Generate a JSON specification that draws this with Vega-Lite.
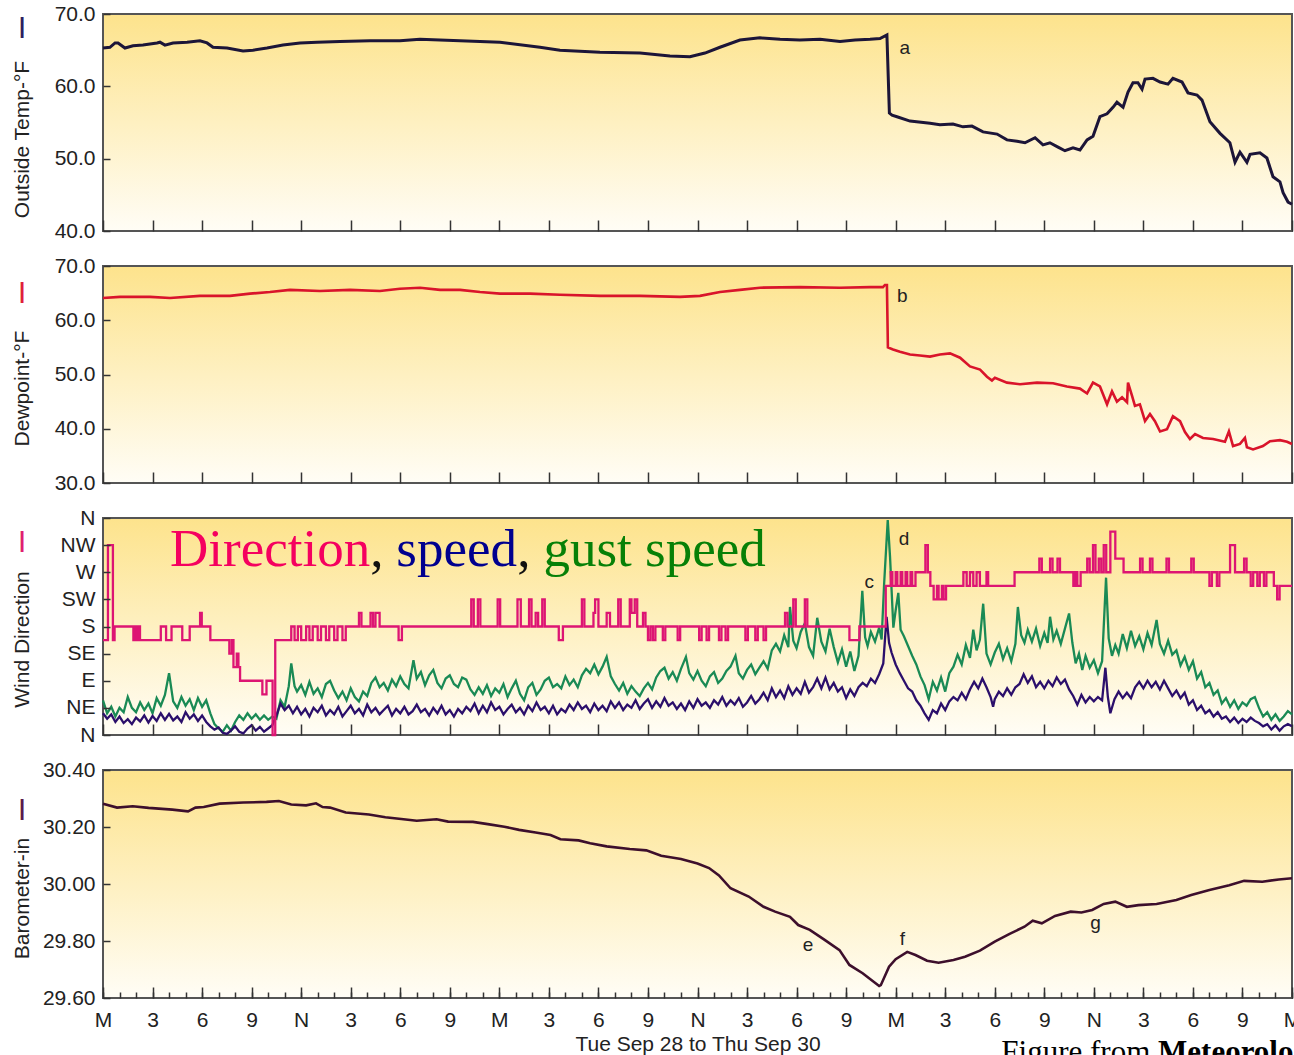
{
  "$schema": "https://vega.github.io/schema/vega-lite/v6.json",
  "padding": {"top": 3, "left": 10, "right": 0, "bottom": 0},
  "background": "white",
  "spacing": 35,
  "bounds": "flush",
  "config": {
    "font": "Liberation Sans",
    "view": {"stroke": null},
    "axis": {"labelFont": "Liberation Sans", "titleFont": "Liberation Sans", "labelFontSize": 21, "titleFontSize": 21, "labelColor": "#222", "titleColor": "#222", "titleFontWeight": "normal", "tickColor": "#333", "tickWidth": 1.5, "grid": false, "domain": false, "zindex": 1, "labelOverlap": false}
  },
  "datasets": {
    "temp": [{"h":0,"v":65.3},{"h":0.42,"v":65.4},{"h":0.73,"v":66.0},{"h":0.91,"v":66.0},{"h":1.33,"v":65.3},{"h":1.82,"v":65.6},{"h":2.42,"v":65.7},{"h":3.27,"v":66.0},{"h":3.45,"v":66.1},{"h":3.75,"v":65.7},{"h":4.24,"v":66.0},{"h":5.09,"v":66.1},{"h":5.87,"v":66.3},{"h":6.3,"v":66.0},{"h":6.66,"v":65.4},{"h":7.51,"v":65.3},{"h":8.48,"v":64.9},{"h":9.08,"v":65.0},{"h":9.93,"v":65.3},{"h":10.9,"v":65.7},{"h":11.93,"v":66.0},{"h":12.96,"v":66.1},{"h":14.35,"v":66.2},{"h":16.17,"v":66.3},{"h":17.98,"v":66.3},{"h":19.19,"v":66.5},{"h":21.62,"v":66.3},{"h":24.04,"v":66.1},{"h":26.46,"v":65.4},{"h":27.67,"v":65.0},{"h":30.09,"v":64.7},{"h":32.52,"v":64.6},{"h":34.33,"v":64.2},{"h":35.54,"v":64.1},{"h":36.45,"v":64.6},{"h":37.36,"v":65.4},{"h":38.57,"v":66.4},{"h":39.78,"v":66.7},{"h":41.0,"v":66.5},{"h":42.2,"v":66.4},{"h":43.42,"v":66.5},{"h":44.63,"v":66.2},{"h":45.54,"v":66.4},{"h":46.45,"v":66.5},{"h":47.05,"v":66.6},{"h":47.47,"v":67.1},{"h":47.62,"v":56.3},{"h":47.78,"v":56.0},{"h":48.08,"v":55.8},{"h":48.87,"v":55.2},{"h":50.08,"v":54.9},{"h":50.68,"v":54.7},{"h":51.47,"v":54.8},{"h":52.08,"v":54.4},{"h":52.62,"v":54.5},{"h":53.29,"v":53.7},{"h":54.14,"v":53.4},{"h":54.74,"v":52.6},{"h":55.35,"v":52.4},{"h":55.83,"v":52.2},{"h":56.44,"v":52.9},{"h":56.92,"v":51.9},{"h":57.34,"v":52.2},{"h":57.83,"v":51.6},{"h":58.25,"v":51.1},{"h":58.74,"v":51.5},{"h":59.16,"v":51.2},{"h":59.59,"v":52.6},{"h":59.95,"v":53.1},{"h":60.37,"v":55.8},{"h":60.8,"v":56.2},{"h":61.16,"v":57.1},{"h":61.4,"v":57.8},{"h":61.77,"v":57.1},{"h":62.07,"v":59.2},{"h":62.37,"v":60.5},{"h":62.67,"v":60.5},{"h":62.92,"v":59.6},{"h":63.1,"v":61.0},{"h":63.58,"v":61.1},{"h":64.01,"v":60.6},{"h":64.49,"v":60.3},{"h":64.79,"v":61.1},{"h":65.34,"v":60.6},{"h":65.7,"v":59.1},{"h":66.25,"v":58.8},{"h":66.55,"v":58.1},{"h":67.03,"v":55.1},{"h":67.64,"v":53.5},{"h":68.24,"v":52.2},{"h":68.55,"v":49.5},{"h":68.85,"v":50.9},{"h":69.27,"v":49.5},{"h":69.46,"v":50.6},{"h":70.06,"v":50.8},{"h":70.48,"v":50.1},{"h":70.85,"v":47.5},{"h":71.27,"v":46.8},{"h":71.46,"v":45.3},{"h":71.76,"v":44.0},{"h":72,"v":43.7}],
    "dew": [{"h":0,"v":64.1},{"h":1.03,"v":64.3},{"h":2.85,"v":64.3},{"h":4.06,"v":64.1},{"h":5.87,"v":64.5},{"h":7.69,"v":64.5},{"h":8.9,"v":64.9},{"h":10.11,"v":65.2},{"h":11.32,"v":65.6},{"h":13.14,"v":65.4},{"h":14.96,"v":65.6},{"h":16.77,"v":65.4},{"h":17.98,"v":65.8},{"h":19.2,"v":66.0},{"h":20.41,"v":65.6},{"h":21.62,"v":65.6},{"h":22.83,"v":65.2},{"h":24.04,"v":64.9},{"h":25.86,"v":64.9},{"h":27.67,"v":64.7},{"h":30.1,"v":64.5},{"h":32.52,"v":64.5},{"h":34.94,"v":64.3},{"h":36.15,"v":64.5},{"h":37.36,"v":65.2},{"h":38.57,"v":65.6},{"h":39.78,"v":66.0},{"h":42.21,"v":66.1},{"h":44.63,"v":66.0},{"h":46.45,"v":66.1},{"h":47.23,"v":66.1},{"h":47.35,"v":66.5},{"h":47.47,"v":66.5},{"h":47.53,"v":55.0},{"h":47.84,"v":54.6},{"h":48.26,"v":54.2},{"h":48.87,"v":53.7},{"h":49.47,"v":53.5},{"h":50.08,"v":53.3},{"h":50.68,"v":53.7},{"h":51.29,"v":53.9},{"h":51.9,"v":53.1},{"h":52.5,"v":51.5},{"h":53.11,"v":50.9},{"h":53.53,"v":49.6},{"h":53.83,"v":48.9},{"h":54.01,"v":49.4},{"h":54.74,"v":48.5},{"h":55.53,"v":48.2},{"h":56.56,"v":48.5},{"h":57.53,"v":48.4},{"h":58.37,"v":47.8},{"h":59.16,"v":47.4},{"h":59.59,"v":46.5},{"h":59.95,"v":48.5},{"h":60.37,"v":47.8},{"h":60.8,"v":44.5},{"h":61.1,"v":46.9},{"h":61.4,"v":45.0},{"h":61.71,"v":45.8},{"h":62.01,"v":44.9},{"h":62.07,"v":48.5},{"h":62.31,"v":46.1},{"h":62.49,"v":44.2},{"h":62.79,"v":44.5},{"h":63.1,"v":41.4},{"h":63.4,"v":42.7},{"h":63.7,"v":41.4},{"h":64.01,"v":39.5},{"h":64.43,"v":39.9},{"h":64.79,"v":42.3},{"h":65.22,"v":41.4},{"h":65.52,"v":39.4},{"h":65.82,"v":38.1},{"h":66.13,"v":39.0},{"h":66.61,"v":38.3},{"h":67.22,"v":38.1},{"h":67.94,"v":37.6},{"h":68.18,"v":39.5},{"h":68.43,"v":36.8},{"h":68.85,"v":37.2},{"h":69.15,"v":38.3},{"h":69.27,"v":36.6},{"h":69.64,"v":36.2},{"h":70.24,"v":36.8},{"h":70.67,"v":37.7},{"h":71.27,"v":37.9},{"h":71.7,"v":37.6},{"h":72,"v":37.2}],
    "dir": [{"h":0,"d":157.5},{"h":0.3,"d":315},{"h":0.6,"d":157.5},{"h":0.7,"d":180},{"h":1.84,"d":157.5},{"h":1.92,"d":180},{"h":2.0,"d":157.5},{"h":2.1,"d":180},{"h":2.24,"d":157.5},{"h":3.5,"d":180},{"h":3.82,"d":157.5},{"h":4.15,"d":180},{"h":4.8,"d":157.5},{"h":5.25,"d":180},{"h":5.88,"d":202.5},{"h":5.98,"d":180},{"h":6.5,"d":157.5},{"h":7.65,"d":135},{"h":7.8,"d":157.5},{"h":7.9,"d":112.5},{"h":8.1,"d":135},{"h":8.2,"d":112.5},{"h":8.3,"d":90},{"h":9.65,"d":67.5},{"h":9.9,"d":90},{"h":10.27,"d":0},{"h":10.43,"d":157.5},{"h":11.4,"d":180},{"h":11.6,"d":157.5},{"h":11.8,"d":180},{"h":12.0,"d":157.5},{"h":12.3,"d":180},{"h":12.5,"d":157.5},{"h":12.7,"d":180},{"h":13.0,"d":157.5},{"h":13.2,"d":180},{"h":13.5,"d":157.5},{"h":13.7,"d":180},{"h":14.0,"d":157.5},{"h":14.2,"d":180},{"h":14.5,"d":157.5},{"h":14.7,"d":180},{"h":15.5,"d":202.5},{"h":15.65,"d":180},{"h":16.2,"d":202.5},{"h":16.35,"d":180},{"h":16.5,"d":202.5},{"h":16.75,"d":180},{"h":17.9,"d":157.5},{"h":18.1,"d":180},{"h":22.3,"d":225},{"h":22.45,"d":180},{"h":22.7,"d":225},{"h":22.85,"d":180},{"h":23.9,"d":225},{"h":24.05,"d":180},{"h":25.1,"d":225},{"h":25.3,"d":180},{"h":25.8,"d":225},{"h":25.95,"d":180},{"h":26.2,"d":202.5},{"h":26.35,"d":180},{"h":26.6,"d":225},{"h":26.75,"d":180},{"h":27.6,"d":157.5},{"h":27.85,"d":180},{"h":29.0,"d":225},{"h":29.15,"d":180},{"h":29.7,"d":202.5},{"h":29.8,"d":225},{"h":30.0,"d":180},{"h":30.5,"d":202.5},{"h":30.7,"d":180},{"h":31.2,"d":225},{"h":31.35,"d":180},{"h":31.9,"d":225},{"h":32.0,"d":202.5},{"h":32.2,"d":225},{"h":32.35,"d":180},{"h":32.7,"d":202.5},{"h":32.85,"d":180},{"h":33.0,"d":157.5},{"h":33.15,"d":180},{"h":33.3,"d":157.5},{"h":33.45,"d":180},{"h":33.9,"d":157.5},{"h":34.05,"d":180},{"h":34.8,"d":157.5},{"h":34.95,"d":180},{"h":36.1,"d":157.5},{"h":36.25,"d":180},{"h":36.55,"d":157.5},{"h":36.7,"d":180},{"h":37.3,"d":157.5},{"h":37.45,"d":180},{"h":37.7,"d":157.5},{"h":37.85,"d":180},{"h":38.9,"d":157.5},{"h":39.05,"d":180},{"h":39.5,"d":157.5},{"h":39.65,"d":180},{"h":40.0,"d":157.5},{"h":40.15,"d":180},{"h":41.3,"d":202.5},{"h":41.45,"d":180},{"h":41.8,"d":225},{"h":41.95,"d":180},{"h":42.5,"d":225},{"h":42.65,"d":180},{"h":45.2,"d":157.5},{"h":45.8,"d":180},{"h":47.4,"d":247.5},{"h":47.7,"d":270},{"h":47.8,"d":247.5},{"h":48.0,"d":270},{"h":48.1,"d":247.5},{"h":48.3,"d":270},{"h":48.4,"d":247.5},{"h":48.6,"d":270},{"h":48.7,"d":247.5},{"h":48.9,"d":270},{"h":49.0,"d":247.5},{"h":49.2,"d":270},{"h":49.8,"d":315},{"h":49.95,"d":270},{"h":50.1,"d":247.5},{"h":50.3,"d":225},{"h":50.5,"d":247.5},{"h":50.6,"d":225},{"h":50.8,"d":247.5},{"h":50.9,"d":225},{"h":51.05,"d":247.5},{"h":52.1,"d":270},{"h":52.3,"d":247.5},{"h":52.5,"d":270},{"h":52.7,"d":247.5},{"h":52.9,"d":270},{"h":53.1,"d":247.5},{"h":53.5,"d":270},{"h":53.6,"d":247.5},{"h":55.2,"d":270},{"h":56.7,"d":292.5},{"h":56.85,"d":270},{"h":57.35,"d":292.5},{"h":57.5,"d":270},{"h":57.8,"d":292.5},{"h":57.95,"d":270},{"h":58.76,"d":247.5},{"h":58.9,"d":270},{"h":59.0,"d":247.5},{"h":59.2,"d":270},{"h":59.6,"d":292.5},{"h":59.75,"d":270},{"h":59.95,"d":315},{"h":60.1,"d":270},{"h":60.3,"d":292.5},{"h":60.45,"d":270},{"h":60.6,"d":315},{"h":60.75,"d":270},{"h":61.0,"d":337.5},{"h":61.3,"d":292.5},{"h":61.8,"d":270},{"h":62.8,"d":292.5},{"h":62.95,"d":270},{"h":63.4,"d":292.5},{"h":63.55,"d":270},{"h":64.4,"d":292.5},{"h":64.55,"d":270},{"h":65.9,"d":292.5},{"h":66.05,"d":270},{"h":67.0,"d":247.5},{"h":67.15,"d":270},{"h":67.45,"d":247.5},{"h":67.6,"d":270},{"h":68.25,"d":315},{"h":68.55,"d":270},{"h":69.1,"d":292.5},{"h":69.25,"d":270},{"h":69.5,"d":247.5},{"h":69.65,"d":270},{"h":69.9,"d":247.5},{"h":70.05,"d":270},{"h":70.3,"d":247.5},{"h":70.45,"d":270},{"h":70.9,"d":247.5},{"h":71.1,"d":225},{"h":71.25,"d":247.5},{"h":72,"d":247.5}],
    "spd": [{"h":0,"s":4.0},{"h":0.25,"s":3.0},{"h":0.5,"s":3.8},{"h":0.75,"s":2.4},{"h":1.0,"s":3.4},{"h":1.25,"s":2.2},{"h":1.5,"s":2.9},{"h":1.75,"s":2.0},{"h":2.0,"s":3.2},{"h":2.25,"s":2.5},{"h":2.5,"s":3.6},{"h":2.75,"s":2.3},{"h":3.0,"s":3.5},{"h":3.25,"s":2.6},{"h":3.5,"s":4.0},{"h":3.75,"s":2.8},{"h":4.0,"s":3.9},{"h":4.25,"s":2.7},{"h":4.5,"s":3.4},{"h":4.75,"s":2.4},{"h":5.0,"s":4.2},{"h":5.25,"s":3.0},{"h":5.5,"s":3.8},{"h":5.75,"s":2.6},{"h":6.0,"s":3.6},{"h":6.25,"s":2.4},{"h":6.5,"s":1.6},{"h":6.75,"s":1.0},{"h":7.0,"s":1.4},{"h":7.25,"s":0.4},{"h":7.5,"s":0.2},{"h":7.75,"s":0.8},{"h":8.0,"s":1.6},{"h":8.25,"s":0.6},{"h":8.5,"s":0.3},{"h":8.75,"s":1.2},{"h":9.0,"s":1.8},{"h":9.25,"s":0.8},{"h":9.5,"s":1.5},{"h":9.75,"s":0.6},{"h":10.0,"s":1.2},{"h":10.25,"s":1.8},{"h":10.5,"s":3.6},{"h":10.75,"s":5.8},{"h":11.0,"s":4.6},{"h":11.25,"s":5.4},{"h":11.5,"s":4.0},{"h":11.75,"s":5.2},{"h":12.0,"s":3.8},{"h":12.25,"s":4.8},{"h":12.5,"s":3.4},{"h":12.75,"s":5.0},{"h":13.0,"s":4.2},{"h":13.25,"s":5.4},{"h":13.5,"s":3.6},{"h":13.75,"s":4.6},{"h":14.0,"s":3.8},{"h":14.25,"s":5.2},{"h":14.5,"s":3.4},{"h":14.75,"s":4.4},{"h":15.0,"s":5.4},{"h":15.25,"s":4.0},{"h":15.5,"s":4.8},{"h":15.75,"s":3.6},{"h":16.0,"s":5.6},{"h":16.25,"s":4.2},{"h":16.5,"s":5.0},{"h":16.75,"s":3.8},{"h":17.0,"s":4.6},{"h":17.25,"s":5.4},{"h":17.5,"s":3.6},{"h":17.75,"s":4.8},{"h":18.0,"s":4.0},{"h":18.25,"s":5.2},{"h":18.5,"s":3.8},{"h":18.75,"s":4.4},{"h":19.0,"s":5.6},{"h":19.25,"s":4.2},{"h":19.5,"s":4.8},{"h":19.75,"s":3.6},{"h":20.0,"s":5.0},{"h":20.25,"s":4.0},{"h":20.5,"s":5.4},{"h":20.75,"s":3.8},{"h":21.0,"s":4.6},{"h":21.25,"s":3.4},{"h":21.5,"s":4.8},{"h":21.75,"s":4.0},{"h":22.0,"s":5.2},{"h":22.25,"s":4.4},{"h":22.5,"s":5.8},{"h":22.75,"s":4.0},{"h":23.0,"s":5.4},{"h":23.25,"s":4.2},{"h":23.5,"s":6.0},{"h":23.75,"s":4.6},{"h":24.0,"s":5.2},{"h":24.25,"s":3.8},{"h":24.5,"s":4.8},{"h":24.75,"s":5.6},{"h":25.0,"s":4.2},{"h":25.25,"s":5.0},{"h":25.5,"s":3.8},{"h":25.75,"s":5.4},{"h":26.0,"s":4.4},{"h":26.25,"s":6.0},{"h":26.5,"s":4.6},{"h":26.75,"s":5.2},{"h":27.0,"s":4.0},{"h":27.25,"s":5.4},{"h":27.5,"s":3.8},{"h":27.75,"s":4.8},{"h":28.0,"s":4.2},{"h":28.25,"s":5.6},{"h":28.5,"s":4.6},{"h":28.75,"s":6.0},{"h":29.0,"s":4.8},{"h":29.25,"s":5.4},{"h":29.5,"s":4.2},{"h":29.75,"s":5.8},{"h":30.0,"s":4.6},{"h":30.25,"s":5.4},{"h":30.5,"s":4.4},{"h":30.75,"s":6.2},{"h":31.0,"s":5.0},{"h":31.25,"s":6.0},{"h":31.5,"s":4.6},{"h":31.75,"s":5.6},{"h":32.0,"s":5.0},{"h":32.25,"s":6.4},{"h":32.5,"s":4.8},{"h":32.75,"s":5.8},{"h":33.0,"s":6.6},{"h":33.25,"s":5.0},{"h":33.5,"s":6.2},{"h":33.75,"s":5.2},{"h":34.0,"s":6.8},{"h":34.25,"s":5.4},{"h":34.5,"s":6.0},{"h":34.75,"s":4.8},{"h":35.0,"s":5.8},{"h":35.25,"s":4.6},{"h":35.5,"s":6.2},{"h":35.75,"s":5.0},{"h":36.0,"s":6.6},{"h":36.25,"s":5.4},{"h":36.5,"s":6.0},{"h":36.75,"s":5.0},{"h":37.0,"s":6.4},{"h":37.25,"s":5.6},{"h":37.5,"s":7.0},{"h":37.75,"s":5.4},{"h":38.0,"s":6.4},{"h":38.25,"s":5.6},{"h":38.5,"s":6.8},{"h":38.75,"s":5.2},{"h":39.0,"s":6.0},{"h":39.25,"s":7.2},{"h":39.5,"s":5.8},{"h":39.75,"s":6.6},{"h":40.0,"s":7.8},{"h":40.25,"s":6.4},{"h":40.5,"s":8.6},{"h":40.75,"s":7.0},{"h":41.0,"s":8.2},{"h":41.25,"s":6.8},{"h":41.5,"s":9.0},{"h":41.75,"s":7.4},{"h":42.0,"s":8.6},{"h":42.25,"s":7.6},{"h":42.5,"s":9.8},{"h":42.75,"s":7.8},{"h":43.0,"s":8.8},{"h":43.25,"s":10.4},{"h":43.5,"s":8.6},{"h":43.75,"s":10.6},{"h":44.0,"s":8.4},{"h":44.25,"s":9.6},{"h":44.5,"s":8.0},{"h":44.75,"s":8.8},{"h":45.0,"s":6.8},{"h":45.25,"s":8.4},{"h":45.5,"s":7.2},{"h":45.75,"s":8.8},{"h":46.0,"s":9.6},{"h":46.25,"s":9.0},{"h":46.5,"s":10.4},{"h":46.75,"s":9.6},{"h":47.0,"s":11.2},{"h":47.25,"s":13.2},{"h":47.45,"s":21.8},{"h":47.6,"s":17.0},{"h":47.75,"s":15.2},{"h":48.0,"s":13.0},{"h":48.25,"s":11.4},{"h":48.5,"s":10.0},{"h":48.75,"s":8.6},{"h":49.0,"s":8.0},{"h":49.25,"s":6.4},{"h":49.5,"s":5.4},{"h":49.75,"s":4.0},{"h":50.0,"s":2.8},{"h":50.25,"s":4.6},{"h":50.5,"s":4.0},{"h":50.75,"s":5.8},{"h":51.0,"s":4.6},{"h":51.25,"s":6.2},{"h":51.5,"s":7.0},{"h":51.75,"s":6.4},{"h":52.0,"s":7.8},{"h":52.25,"s":6.6},{"h":52.5,"s":8.4},{"h":52.75,"s":9.8},{"h":53.0,"s":8.6},{"h":53.25,"s":10.4},{"h":53.5,"s":8.8},{"h":53.75,"s":7.0},{"h":53.9,"s":5.2},{"h":54.0,"s":6.6},{"h":54.25,"s":8.0},{"h":54.5,"s":7.2},{"h":54.75,"s":8.6},{"h":55.0,"s":7.4},{"h":55.25,"s":8.8},{"h":55.5,"s":9.4},{"h":55.75,"s":11.2},{"h":56.0,"s":9.6},{"h":56.25,"s":10.8},{"h":56.5,"s":8.8},{"h":56.75,"s":9.8},{"h":57.0,"s":8.6},{"h":57.25,"s":10.0},{"h":57.5,"s":9.0},{"h":57.75,"s":10.6},{"h":58.0,"s":9.4},{"h":58.25,"s":10.2},{"h":58.5,"s":8.4},{"h":58.75,"s":7.2},{"h":59.0,"s":5.6},{"h":59.25,"s":7.4},{"h":59.5,"s":6.0},{"h":59.75,"s":7.0},{"h":60.0,"s":6.2},{"h":60.25,"s":7.0},{"h":60.5,"s":6.4},{"h":60.7,"s":12.4},{"h":60.85,"s":7.0},{"h":61.0,"s":4.0},{"h":61.25,"s":6.6},{"h":61.5,"s":8.0},{"h":61.75,"s":6.8},{"h":62.0,"s":7.8},{"h":62.25,"s":6.8},{"h":62.5,"s":8.8},{"h":62.75,"s":9.8},{"h":63.0,"s":8.6},{"h":63.25,"s":10.0},{"h":63.5,"s":8.8},{"h":63.75,"s":9.8},{"h":64.0,"s":8.4},{"h":64.25,"s":10.0},{"h":64.5,"s":8.6},{"h":64.75,"s":7.2},{"h":65.0,"s":8.2},{"h":65.25,"s":6.8},{"h":65.5,"s":7.8},{"h":65.75,"s":5.6},{"h":66.0,"s":6.4},{"h":66.25,"s":4.6},{"h":66.5,"s":5.4},{"h":66.75,"s":4.0},{"h":67.0,"s":4.6},{"h":67.25,"s":3.4},{"h":67.5,"s":4.2},{"h":67.75,"s":3.0},{"h":68.0,"s":3.4},{"h":68.25,"s":2.4},{"h":68.5,"s":3.2},{"h":68.75,"s":2.2},{"h":69.0,"s":3.0},{"h":69.25,"s":2.4},{"h":69.5,"s":3.2},{"h":69.75,"s":2.6},{"h":70.0,"s":2.2},{"h":70.25,"s":1.6},{"h":70.5,"s":2.0},{"h":70.75,"s":1.0},{"h":71.0,"s":1.8},{"h":71.25,"s":0.8},{"h":71.5,"s":1.6},{"h":71.75,"s":2.0},{"h":72.0,"s":1.6}],
    "gust": [{"h":0,"s":6.4},{"h":0.25,"s":4.0},{"h":0.5,"s":5.2},{"h":0.75,"s":3.4},{"h":1.0,"s":5.0},{"h":1.25,"s":4.2},{"h":1.5,"s":7.0},{"h":1.75,"s":5.0},{"h":2.0,"s":4.2},{"h":2.25,"s":6.0},{"h":2.5,"s":4.6},{"h":2.75,"s":5.8},{"h":3.0,"s":4.0},{"h":3.25,"s":6.8},{"h":3.5,"s":5.4},{"h":3.75,"s":7.4},{"h":4.0,"s":11.4},{"h":4.25,"s":6.2},{"h":4.5,"s":5.0},{"h":4.75,"s":7.0},{"h":5.0,"s":5.4},{"h":5.25,"s":6.6},{"h":5.5,"s":4.6},{"h":5.75,"s":6.8},{"h":6.0,"s":5.2},{"h":6.25,"s":6.4},{"h":6.5,"s":4.0},{"h":6.75,"s":2.0},{"h":7.0,"s":1.2},{"h":7.25,"s":0.6},{"h":7.5,"s":1.8},{"h":7.75,"s":0.8},{"h":8.0,"s":2.4},{"h":8.25,"s":3.6},{"h":8.5,"s":2.8},{"h":8.75,"s":4.0},{"h":9.0,"s":3.0},{"h":9.25,"s":3.8},{"h":9.5,"s":2.8},{"h":9.75,"s":3.6},{"h":10.0,"s":2.8},{"h":10.25,"s":3.4},{"h":10.5,"s":3.0},{"h":10.75,"s":6.4},{"h":11.0,"s":5.2},{"h":11.25,"s":9.0},{"h":11.4,"s":13.2},{"h":11.6,"s":9.0},{"h":11.75,"s":8.0},{"h":12.0,"s":9.2},{"h":12.25,"s":7.4},{"h":12.5,"s":9.8},{"h":12.75,"s":7.6},{"h":13.0,"s":8.6},{"h":13.25,"s":7.0},{"h":13.5,"s":9.4},{"h":13.75,"s":10.0},{"h":14.0,"s":8.2},{"h":14.25,"s":6.8},{"h":14.5,"s":8.0},{"h":14.75,"s":6.4},{"h":15.0,"s":8.6},{"h":15.25,"s":7.0},{"h":15.5,"s":6.2},{"h":15.75,"s":8.0},{"h":16.0,"s":7.2},{"h":16.25,"s":9.6},{"h":16.5,"s":10.6},{"h":16.75,"s":8.8},{"h":17.0,"s":9.6},{"h":17.25,"s":8.2},{"h":17.5,"s":10.2},{"h":17.75,"s":9.0},{"h":18.0,"s":10.8},{"h":18.25,"s":9.4},{"h":18.5,"s":8.6},{"h":18.8,"s":13.8},{"h":19.0,"s":10.4},{"h":19.25,"s":11.6},{"h":19.5,"s":9.2},{"h":19.75,"s":11.0},{"h":20.0,"s":12.0},{"h":20.25,"s":9.6},{"h":20.5,"s":8.6},{"h":20.75,"s":10.4},{"h":21.0,"s":11.0},{"h":21.25,"s":9.4},{"h":21.5,"s":8.8},{"h":21.75,"s":10.6},{"h":22.0,"s":10.2},{"h":22.25,"s":8.4},{"h":22.5,"s":7.4},{"h":22.75,"s":8.8},{"h":23.0,"s":7.6},{"h":23.25,"s":9.2},{"h":23.5,"s":7.2},{"h":23.75,"s":8.6},{"h":24.0,"s":7.8},{"h":24.25,"s":9.4},{"h":24.5,"s":7.0},{"h":24.75,"s":8.6},{"h":25.0,"s":10.0},{"h":25.25,"s":7.6},{"h":25.5,"s":6.4},{"h":25.75,"s":8.8},{"h":26.0,"s":9.6},{"h":26.25,"s":7.4},{"h":26.5,"s":8.4},{"h":26.75,"s":10.0},{"h":27.0,"s":10.6},{"h":27.25,"s":8.8},{"h":27.5,"s":9.4},{"h":27.75,"s":8.6},{"h":28.0,"s":10.8},{"h":28.25,"s":9.2},{"h":28.5,"s":10.2},{"h":28.75,"s":8.8},{"h":29.0,"s":11.0},{"h":29.25,"s":12.2},{"h":29.5,"s":11.4},{"h":29.75,"s":13.0},{"h":30.0,"s":11.2},{"h":30.25,"s":12.6},{"h":30.5,"s":14.4},{"h":30.75,"s":10.8},{"h":31.0,"s":9.4},{"h":31.25,"s":8.2},{"h":31.5,"s":9.6},{"h":31.75,"s":7.6},{"h":32.0,"s":9.0},{"h":32.25,"s":8.0},{"h":32.5,"s":7.2},{"h":32.75,"s":8.6},{"h":33.0,"s":9.6},{"h":33.25,"s":8.4},{"h":33.5,"s":10.6},{"h":33.75,"s":11.8},{"h":34.0,"s":12.4},{"h":34.25,"s":10.4},{"h":34.5,"s":11.6},{"h":34.75,"s":10.0},{"h":35.0,"s":12.2},{"h":35.3,"s":14.4},{"h":35.5,"s":11.4},{"h":35.75,"s":10.2},{"h":36.0,"s":11.8},{"h":36.25,"s":10.0},{"h":36.5,"s":9.0},{"h":36.75,"s":10.8},{"h":37.0,"s":11.6},{"h":37.25,"s":9.6},{"h":37.5,"s":10.4},{"h":37.75,"s":11.8},{"h":38.0,"s":12.6},{"h":38.3,"s":14.6},{"h":38.5,"s":11.4},{"h":38.75,"s":10.4},{"h":39.0,"s":12.0},{"h":39.25,"s":13.0},{"h":39.5,"s":11.2},{"h":39.75,"s":12.4},{"h":40.0,"s":13.6},{"h":40.25,"s":12.2},{"h":40.5,"s":15.6},{"h":40.75,"s":16.8},{"h":41.0,"s":15.4},{"h":41.25,"s":18.4},{"h":41.5,"s":16.2},{"h":41.6,"s":23.6},{"h":41.8,"s":17.4},{"h":42.0,"s":16.0},{"h":42.25,"s":19.0},{"h":42.5,"s":20.6},{"h":42.75,"s":16.2},{"h":43.0,"s":14.6},{"h":43.25,"s":21.6},{"h":43.5,"s":17.2},{"h":43.75,"s":15.4},{"h":44.0,"s":19.6},{"h":44.25,"s":16.2},{"h":44.5,"s":13.4},{"h":44.75,"s":15.8},{"h":45.0,"s":12.6},{"h":45.25,"s":15.4},{"h":45.5,"s":11.8},{"h":45.75,"s":14.6},{"h":45.98,"s":26.6},{"h":46.15,"s":18.0},{"h":46.3,"s":16.4},{"h":46.5,"s":19.0},{"h":46.75,"s":17.2},{"h":47.0,"s":19.8},{"h":47.15,"s":17.6},{"h":47.3,"s":27.8},{"h":47.52,"s":39.6},{"h":47.66,"s":32.8},{"h":47.86,"s":19.8},{"h":48.0,"s":23.0},{"h":48.16,"s":26.2},{"h":48.3,"s":19.4},{"h":48.5,"s":18.2},{"h":48.75,"s":16.4},{"h":49.0,"s":14.6},{"h":49.25,"s":13.0},{"h":49.5,"s":10.8},{"h":49.75,"s":9.2},{"h":50.0,"s":6.6},{"h":50.25,"s":9.8},{"h":50.5,"s":8.2},{"h":50.75,"s":10.6},{"h":51.0,"s":8.0},{"h":51.25,"s":11.4},{"h":51.5,"s":12.6},{"h":51.75,"s":14.8},{"h":52.0,"s":13.0},{"h":52.25,"s":16.6},{"h":52.5,"s":14.2},{"h":52.7,"s":19.4},{"h":52.9,"s":15.6},{"h":53.1,"s":17.6},{"h":53.3,"s":24.2},{"h":53.5,"s":15.0},{"h":53.75,"s":13.0},{"h":54.0,"s":15.2},{"h":54.25,"s":16.8},{"h":54.5,"s":14.0},{"h":54.75,"s":16.0},{"h":55.0,"s":13.6},{"h":55.25,"s":16.8},{"h":55.4,"s":23.6},{"h":55.6,"s":18.4},{"h":55.8,"s":17.0},{"h":56.0,"s":19.4},{"h":56.25,"s":17.2},{"h":56.5,"s":19.6},{"h":56.75,"s":16.4},{"h":57.0,"s":18.8},{"h":57.2,"s":17.0},{"h":57.35,"s":21.8},{"h":57.55,"s":17.6},{"h":57.75,"s":19.2},{"h":58.0,"s":16.8},{"h":58.25,"s":19.6},{"h":58.5,"s":22.4},{"h":58.7,"s":17.0},{"h":58.9,"s":13.2},{"h":59.1,"s":15.0},{"h":59.3,"s":12.0},{"h":59.5,"s":14.6},{"h":59.75,"s":12.4},{"h":60.0,"s":13.8},{"h":60.25,"s":11.4},{"h":60.5,"s":13.6},{"h":60.74,"s":29.0},{"h":60.9,"s":17.8},{"h":61.1,"s":14.6},{"h":61.3,"s":16.6},{"h":61.5,"s":15.0},{"h":61.75,"s":18.6},{"h":62.0,"s":16.0},{"h":62.25,"s":19.2},{"h":62.5,"s":16.4},{"h":62.75,"s":18.2},{"h":63.0,"s":15.8},{"h":63.25,"s":18.8},{"h":63.5,"s":16.6},{"h":63.8,"s":21.2},{"h":64.0,"s":16.8},{"h":64.25,"s":15.0},{"h":64.5,"s":17.4},{"h":64.75,"s":14.8},{"h":65.0,"s":15.6},{"h":65.25,"s":12.8},{"h":65.5,"s":14.4},{"h":65.75,"s":12.0},{"h":66.0,"s":13.6},{"h":66.25,"s":10.4},{"h":66.5,"s":11.6},{"h":66.75,"s":8.8},{"h":67.0,"s":9.6},{"h":67.25,"s":7.4},{"h":67.5,"s":8.2},{"h":67.75,"s":5.8},{"h":68.0,"s":6.8},{"h":68.25,"s":5.2},{"h":68.5,"s":6.4},{"h":68.75,"s":4.8},{"h":69.0,"s":6.0},{"h":69.25,"s":5.4},{"h":69.5,"s":6.6},{"h":69.75,"s":7.0},{"h":70.0,"s":5.0},{"h":70.25,"s":3.4},{"h":70.5,"s":4.2},{"h":70.75,"s":2.8},{"h":71.0,"s":3.8},{"h":71.25,"s":2.6},{"h":71.5,"s":3.4},{"h":71.75,"s":4.4},{"h":72.0,"s":3.8}],
    "baro": [{"h":0,"v":30.282},{"h":0.85,"v":30.268},{"h":1.8,"v":30.273},{"h":2.76,"v":30.267},{"h":4.2,"v":30.261},{"h":5.15,"v":30.255},{"h":5.6,"v":30.268},{"h":6.1,"v":30.27},{"h":7.06,"v":30.282},{"h":8.5,"v":30.286},{"h":9.9,"v":30.288},{"h":10.65,"v":30.291},{"h":11.4,"v":30.279},{"h":12.3,"v":30.276},{"h":12.9,"v":30.283},{"h":13.3,"v":30.27},{"h":13.75,"v":30.268},{"h":14.7,"v":30.251},{"h":16.1,"v":30.244},{"h":17.1,"v":30.234},{"h":18.06,"v":30.228},{"h":19.0,"v":30.222},{"h":20.2,"v":30.227},{"h":20.9,"v":30.219},{"h":22.4,"v":30.218},{"h":23.3,"v":30.21},{"h":24.3,"v":30.201},{"h":25.2,"v":30.19},{"h":26.2,"v":30.181},{"h":27.1,"v":30.172},{"h":27.7,"v":30.157},{"h":28.8,"v":30.153},{"h":29.5,"v":30.143},{"h":30.5,"v":30.132},{"h":31.9,"v":30.123},{"h":32.9,"v":30.118},{"h":33.8,"v":30.099},{"h":35.0,"v":30.088},{"h":36.0,"v":30.072},{"h":36.7,"v":30.056},{"h":37.3,"v":30.03},{"h":38.0,"v":29.985},{"h":39.1,"v":29.956},{"h":40.0,"v":29.92},{"h":40.7,"v":29.903},{"h":41.6,"v":29.885},{"h":42.1,"v":29.856},{"h":42.8,"v":29.839},{"h":43.7,"v":29.804},{"h":44.6,"v":29.768},{"h":45.2,"v":29.716},{"h":46.0,"v":29.687},{"h":47.0,"v":29.642},{"h":47.1,"v":29.645},{"h":47.6,"v":29.71},{"h":48.0,"v":29.736},{"h":48.7,"v":29.762},{"h":49.2,"v":29.751},{"h":49.9,"v":29.731},{"h":50.6,"v":29.724},{"h":51.5,"v":29.733},{"h":52.2,"v":29.745},{"h":53.1,"v":29.766},{"h":54.0,"v":29.798},{"h":54.9,"v":29.825},{"h":55.8,"v":29.85},{"h":56.3,"v":29.871},{"h":56.85,"v":29.862},{"h":57.65,"v":29.888},{"h":58.6,"v":29.903},{"h":59.25,"v":29.9},{"h":59.9,"v":29.909},{"h":60.6,"v":29.93},{"h":61.3,"v":29.938},{"h":62.0,"v":29.92},{"h":62.7,"v":29.926},{"h":63.8,"v":29.93},{"h":65.0,"v":29.944},{"h":65.9,"v":29.961},{"h":67.0,"v":29.979},{"h":68.2,"v":29.996},{"h":69.1,"v":30.011},{"h":70.2,"v":30.008},{"h":71.2,"v":30.016},{"h":72,"v":30.02}]
  },
  "vconcat": [
    {
      "width": 1189, "height": 217,
      "layer": [
        {"data": {"values": [{}]}, "mark": {"type": "rect", "fill": {"gradient": "linear", "x1": 0, "y1": 0, "x2": 0, "y2": 1, "stops": [{"offset": 0, "color": "#fde38c"}, {"offset": 1, "color": "#fffdf6"}]}, "stroke": "#555", "strokeWidth": 2}, "encoding": {}},
        {"data": {"name": "temp"}, "mark": {"type": "line", "color": "#1c1538", "strokeWidth": 3},
         "encoding": {
           "x": {"field": "h", "type": "quantitative", "scale": {"domain": [0, 72], "nice": false, "zero": false}, "axis": {"values": [0,3,6,9,12,15,18,21,24,27,30,33,36,39,42,45,48,51,54,57,60,63,66,69,72], "labels": false, "title": null, "tickSize": -11, "zindex": 1}},
           "y": {"field": "v", "type": "quantitative", "scale": {"domain": [40, 70], "nice": false, "zero": false}, "axis": {"values": [40,42.5,45,47.5,50,52.5,55,57.5,60,62.5,65,67.5,70], "labelExpr": "datum.value % 10 == 0 ? format(datum.value, '.1f') : ''", "tickSize": -7, "labelPadding": 15, "title": "Outside Temp-°F", "titleX": -71, "titleY": 125, "zindex": 1}}
         }},
        {"data": {"values": [{"h": 48.55, "v": 65.3, "t": "a"}]}, "mark": {"type": "text", "fontSize": 19, "color": "#222", "align": "center", "baseline": "middle"},
         "encoding": {"x": {"field": "h", "type": "quantitative"}, "y": {"field": "v", "type": "quantitative"}, "text": {"field": "t"}}},
        {"data": {"values": [{"h": -4.9, "v": 68.3, "t": "|"}]}, "mark": {"type": "text", "fontSize": 22, "fontWeight": "bold", "color": "#2d1f5e", "align": "center", "baseline": "middle"},
         "encoding": {"x": {"field": "h", "type": "quantitative"}, "y": {"field": "v", "type": "quantitative"}, "text": {"field": "t"}}}
      ]
    },
    {
      "width": 1189, "height": 217,
      "layer": [
        {"data": {"values": [{}]}, "mark": {"type": "rect", "fill": {"gradient": "linear", "x1": 0, "y1": 0, "x2": 0, "y2": 1, "stops": [{"offset": 0, "color": "#fde38c"}, {"offset": 1, "color": "#fffdf6"}]}, "stroke": "#555", "strokeWidth": 2}, "encoding": {}},
        {"data": {"name": "dew"}, "mark": {"type": "line", "color": "#d9142b", "strokeWidth": 2.6},
         "encoding": {
           "x": {"field": "h", "type": "quantitative", "scale": {"domain": [0, 72], "nice": false, "zero": false}, "axis": {"values": [0,3,6,9,12,15,18,21,24,27,30,33,36,39,42,45,48,51,54,57,60,63,66,69,72], "labels": false, "title": null, "tickSize": -11, "zindex": 1}},
           "y": {"field": "v", "type": "quantitative", "scale": {"domain": [30, 70], "nice": false, "zero": false}, "axis": {"values": [30,32.5,35,37.5,40,42.5,45,47.5,50,52.5,55,57.5,60,62.5,65,67.5,70], "labelExpr": "datum.value % 10 == 0 ? format(datum.value, '.1f') : ''", "tickSize": -7, "labelPadding": 15, "title": "Dewpoint-°F", "titleX": -71, "titleY": 122, "zindex": 1}}
         }},
        {"data": {"values": [{"h": 48.4, "v": 64.5, "t": "b"}]}, "mark": {"type": "text", "fontSize": 19, "color": "#222", "align": "center", "baseline": "middle"},
         "encoding": {"x": {"field": "h", "type": "quantitative"}, "y": {"field": "v", "type": "quantitative"}, "text": {"field": "t"}}},
        {"data": {"values": [{"h": -4.9, "v": 65.4, "t": "|"}]}, "mark": {"type": "text", "fontSize": 22, "fontWeight": "bold", "color": "#e0203a", "align": "center", "baseline": "middle"},
         "encoding": {"x": {"field": "h", "type": "quantitative"}, "y": {"field": "v", "type": "quantitative"}, "text": {"field": "t"}}}
      ]
    },
    {
      "width": 1189, "height": 217,
      "resolve": {"scale": {"y": "independent"}},
      "layer": [
        {"data": {"values": [{}]}, "mark": {"type": "rect", "fill": {"gradient": "linear", "x1": 0, "y1": 0, "x2": 0, "y2": 1, "stops": [{"offset": 0, "color": "#fde38c"}, {"offset": 1, "color": "#fffdf6"}]}, "stroke": "#555", "strokeWidth": 2}, "encoding": {}},
        {"data": {"name": "gust"}, "mark": {"type": "line", "color": "#1a8a55", "strokeWidth": 2.3},
         "encoding": {"x": {"field": "h", "type": "quantitative"}, "y": {"field": "s", "type": "quantitative", "scale": {"domain": [0, 40], "nice": false, "zero": false}, "axis": null}}},
        {"data": {"name": "spd"}, "mark": {"type": "line", "color": "#2b0f6b", "strokeWidth": 2.3},
         "encoding": {"x": {"field": "h", "type": "quantitative"}, "y": {"field": "s", "type": "quantitative", "scale": {"domain": [0, 40], "nice": false, "zero": false}, "axis": null}}},
        {"data": {"name": "dir"}, "mark": {"type": "line", "color": "#dd1573", "strokeWidth": 2.3, "interpolate": "step-after"},
         "encoding": {
           "x": {"field": "h", "type": "quantitative", "scale": {"domain": [0, 72], "nice": false, "zero": false}, "axis": {"values": [0,3,6,9,12,15,18,21,24,27,30,33,36,39,42,45,48,51,54,57,60,63,66,69,72], "labels": false, "title": null, "tickSize": -11, "zindex": 1}},
           "y": {"field": "d", "type": "quantitative", "scale": {"domain": [0, 360], "nice": false, "zero": false}, "axis": {"values": [0,45,90,135,180,225,270,315,360], "labelExpr": "['N','NE','E','SE','S','SW','W','NW','N'][round(datum.value/45)]", "tickSize": -7, "labelPadding": 15, "title": "Wind Direction", "titleX": -71, "titleY": 121, "zindex": 1}}
         }},
        {"data": {"values": [{"h": 46.4, "v": 253.8, "t": "c"}, {"h": 48.5, "v": 325.2, "t": "d"}]}, "mark": {"type": "text", "fontSize": 19, "color": "#222", "align": "center", "baseline": "middle"},
         "encoding": {"x": {"field": "h", "type": "quantitative"}, "y": {"field": "v", "type": "quantitative", "scale": {"domain": [0, 360], "nice": false, "zero": false}, "axis": null}, "text": {"field": "t"}}},
        {"data": {"values": [{"h": 4.06, "v": 280.4, "t": "Direction", "k": "dir"}, {"h": 16.18, "v": 280.4, "t": ",", "k": "p"}, {"h": 17.76, "v": 280.4, "t": "speed", "k": "spd"}, {"h": 25.09, "v": 280.4, "t": ",", "k": "p"}, {"h": 26.67, "v": 280.4, "t": "gust speed", "k": "gust"}]},
         "mark": {"type": "text", "font": "Liberation Serif", "fontSize": 53, "align": "left", "baseline": "alphabetic"},
         "encoding": {"x": {"field": "h", "type": "quantitative"}, "y": {"field": "v", "type": "quantitative", "scale": {"domain": [0, 360], "nice": false, "zero": false}, "axis": null}, "text": {"field": "t"},
           "color": {"field": "k", "type": "nominal", "scale": {"domain": ["dir", "p", "spd", "gust"], "range": ["#f5005f", "#111111", "#00008f", "#078007"]}, "legend": null}}},
        {"data": {"values": [{"h": -4.9, "v": 323.5, "t": "|"}]}, "mark": {"type": "text", "fontSize": 22, "fontWeight": "bold", "color": "#e0206f", "align": "center", "baseline": "middle"},
         "encoding": {"x": {"field": "h", "type": "quantitative"}, "y": {"field": "v", "type": "quantitative", "scale": {"domain": [0, 360], "nice": false, "zero": false}, "axis": null}, "text": {"field": "t"}}}
      ]
    },
    {
      "width": 1189, "height": 228,
      "resolve": {"axis": {"x": "independent"}},
      "layer": [
        {"data": {"values": [{}]}, "mark": {"type": "rect", "fill": {"gradient": "linear", "x1": 0, "y1": 0, "x2": 0, "y2": 1, "stops": [{"offset": 0, "color": "#fde38c"}, {"offset": 1, "color": "#fffdf6"}]}, "stroke": "#555", "strokeWidth": 2}, "encoding": {}},
        {"data": {"name": "baro"}, "mark": {"type": "line", "color": "#3d0f2c", "strokeWidth": 2.6},
         "encoding": {
           "x": {"field": "h", "type": "quantitative", "scale": {"domain": [0, 72], "nice": false, "zero": false}, "axis": {"orient": "bottom", "values": [0,3,6,9,12,15,18,21,24,27,30,33,36,39,42,45,48,51,54,57,60,63,66,69,72], "tickSize": -11, "labelExpr": "datum.value % 24 == 0 ? 'M' : (datum.value % 12 == 0 ? 'N' : format(datum.value % 12, 'd'))", "labelFlush": false, "labelOverlap": false, "labelPadding": 22, "title": "Tue Sep 28 to Thu Sep 30", "titlePadding": 3, "zindex": 1}},
           "y": {"field": "v", "type": "quantitative", "scale": {"domain": [29.6, 30.4], "nice": false, "zero": false}, "axis": {"values": [29.6,29.65,29.7,29.75,29.8,29.85,29.9,29.95,30,30.05,30.1,30.15,30.2,30.25,30.3,30.35,30.4], "labelExpr": "round(datum.value*100) % 20 == 0 ? format(datum.value, '.2f') : ''", "tickSize": -7, "labelPadding": 15, "title": "Barometer-in", "titleX": -71, "titleY": 128, "zindex": 1}}
         }},
        {"data": {"values": [{"h": 42.7, "v": 29.786, "t": "e"}, {"h": 48.4, "v": 29.807, "t": "f"}, {"h": 60.1, "v": 29.863, "t": "g"}]}, "mark": {"type": "text", "fontSize": 19, "color": "#222", "align": "center", "baseline": "middle"},
         "encoding": {"x": {"field": "h", "type": "quantitative", "axis": {"orient": "bottom", "values": [0,1,2,3,4,5,6,7,8,9,10,11,12,13,14,15,16,17,18,19,20,21,22,23,24,25,26,27,28,29,30,31,32,33,34,35,36,37,38,39,40,41,42,43,44,45,46,47,48,49,50,51,52,53,54,55,56,57,58,59,60,61,62,63,64,65,66,67,68,69,70,71,72], "labels": false, "title": null, "tickSize": -6, "zindex": 1}}, "y": {"field": "v", "type": "quantitative"}, "text": {"field": "t"}}},
        {"data": {"values": [{"h": -4.9, "v": 30.267, "t": "|"}]}, "mark": {"type": "text", "fontSize": 22, "fontWeight": "bold", "color": "#5a1a4a", "align": "center", "baseline": "middle"},
         "encoding": {"x": {"field": "h", "type": "quantitative", "axis": null}, "y": {"field": "v", "type": "quantitative"}, "text": {"field": "t"}}},
        {"data": {"values": [{"h": 54.4, "v": 29.376, "t": "Figure from"}]}, "mark": {"type": "text", "font": "Liberation Serif", "fontSize": 31, "color": "#000", "align": "left", "baseline": "alphabetic"},
         "encoding": {"x": {"field": "h", "type": "quantitative", "axis": null}, "y": {"field": "v", "type": "quantitative"}, "text": {"field": "t"}}},
        {"data": {"values": [{"h": 63.89, "v": 29.376, "t": "Meteorology Today"}]}, "mark": {"type": "text", "font": "Liberation Serif", "fontSize": 31, "fontWeight": "bold", "color": "#000", "align": "left", "baseline": "alphabetic"},
         "encoding": {"x": {"field": "h", "type": "quantitative", "axis": null}, "y": {"field": "v", "type": "quantitative"}, "text": {"field": "t"}}}
      ]
    }
  ]
}
